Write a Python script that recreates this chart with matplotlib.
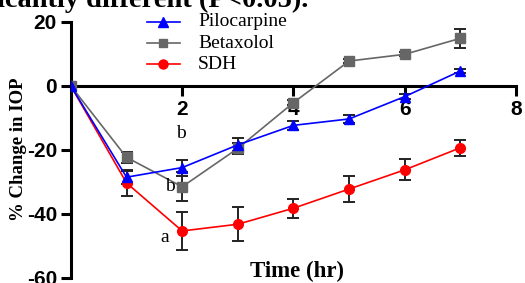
import matplotlib
matplotlib.use('Agg')
import matplotlib.pyplot as plt
from matplotlib.lines import Line2D

plt.rcParams['axes.unicode_minus'] = False

# time points (hr)
hours = [0, 1, 2, 3, 4, 5, 6, 7]

pilo = [0, -28.5, -25.5, -18.4, -12.3, -10.3, -3.3, 4.7]
pilo_err = [0, 2.0, 2.5, 2.0, 1.5, 1.3, 0.8, 0.5]

beta = [0, -22.3, -31.5, -19.5, -5.2, 7.8, 9.9, 14.9]
beta_err = [0, 1.8, 4.5, 1.8, 0.8, 0.6, 0.6, 3.0]

sdh = [0, -30.3, -45.3, -43.2, -38.2, -32.2, -26.2, -19.3]
sdh_err = [0, 4.0, 6.0, 5.3, 3.0, 4.2, 3.3, 2.5]

letters = [(1.98, -14.7, 'b'), (1.78, -31.5, 'b'), (1.69, -47.2, 'a')]

labels = ['Pilocarpine', 'Betaxolol', 'SDH']
colors = ['#0000ff', '#666666', '#ff0000']
markers = ['^', 's', 'o']
msizes = [7, 6.5, 7]

serif = ['Liberation Serif', 'DejaVu Serif']
sans = ['Liberation Sans', 'DejaVu Sans']

W, H = 525, 283
fig = plt.figure(figsize=(W / 100, H / 100), dpi=100)
ax = fig.add_axes([0.135, 0.0177, 0.848, 0.9046])

for ys, es in [(sdh, sdh_err), (beta, beta_err), (pilo, pilo_err)]:
    ax.errorbar(hours, ys, yerr=es, fmt='none', ecolor='#222222',
                elinewidth=1.4, capsize=4, capthick=1.4, zorder=2)

series = [pilo, beta, sdh]
for i in [2, 1, 0]:
    ax.plot(hours, series[i], color=colors[i], marker=markers[i],
            markersize=msizes[i], lw=1.2, zorder=3 + (i == 0))

for x, y, t in letters:
    ax.text(x, y, t, fontsize=14, family=serif, ha='center', va='center')

ax.set_xlim(0, 8)
ax.set_ylim(-60, 20)
ax.set_xticks([2, 4, 6, 8])
ax.set_yticks([20, 0, -20, -40, -60])
ax.spines['top'].set_visible(False)
ax.spines['right'].set_visible(False)
ax.spines['bottom'].set_position(('data', 0))
for s in ['left', 'bottom']:
    ax.spines[s].set_linewidth(2.2)
ax.tick_params(width=2.2, length=7, direction='out', pad=3)
for lab in ax.get_xticklabels() + ax.get_yticklabels():
    lab.set_family(sans)
    lab.set_fontweight('bold')
    lab.set_fontsize(15)

fig.text(0.036, 1 - 149 / H, '% Change in IOP', rotation=90, family=serif,
         fontweight='bold', fontsize=13.5, ha='center', va='center')
fig.text(297 / W, 1 - 271 / H, 'Time (hr)', family=serif, fontweight='bold',
         fontsize=16.5, ha='center', va='center')
fig.text(-0.005, 1 - 7 / H, 'icantly different (P<0.05).', family=serif,
         fontweight='bold', fontsize=20.5, ha='left', va='baseline')

# legend drawn by hand so the rows sit as tight as in the original
for i, lab in enumerate(labels):
    yy = 1 - (22 + 21 * i) / H
    fig.add_artist(Line2D([147 / W, 180 / W], [yy, yy], color=colors[i], lw=1.2))
    fig.add_artist(Line2D([163 / W], [yy], color=colors[i], marker=markers[i],
                          markersize=msizes[i] - 0.5, lw=0))
    fig.text(198 / W, yy, lab, family=serif, fontsize=14, ha='left', va='center')

fig.savefig('out.png', dpi=100)
